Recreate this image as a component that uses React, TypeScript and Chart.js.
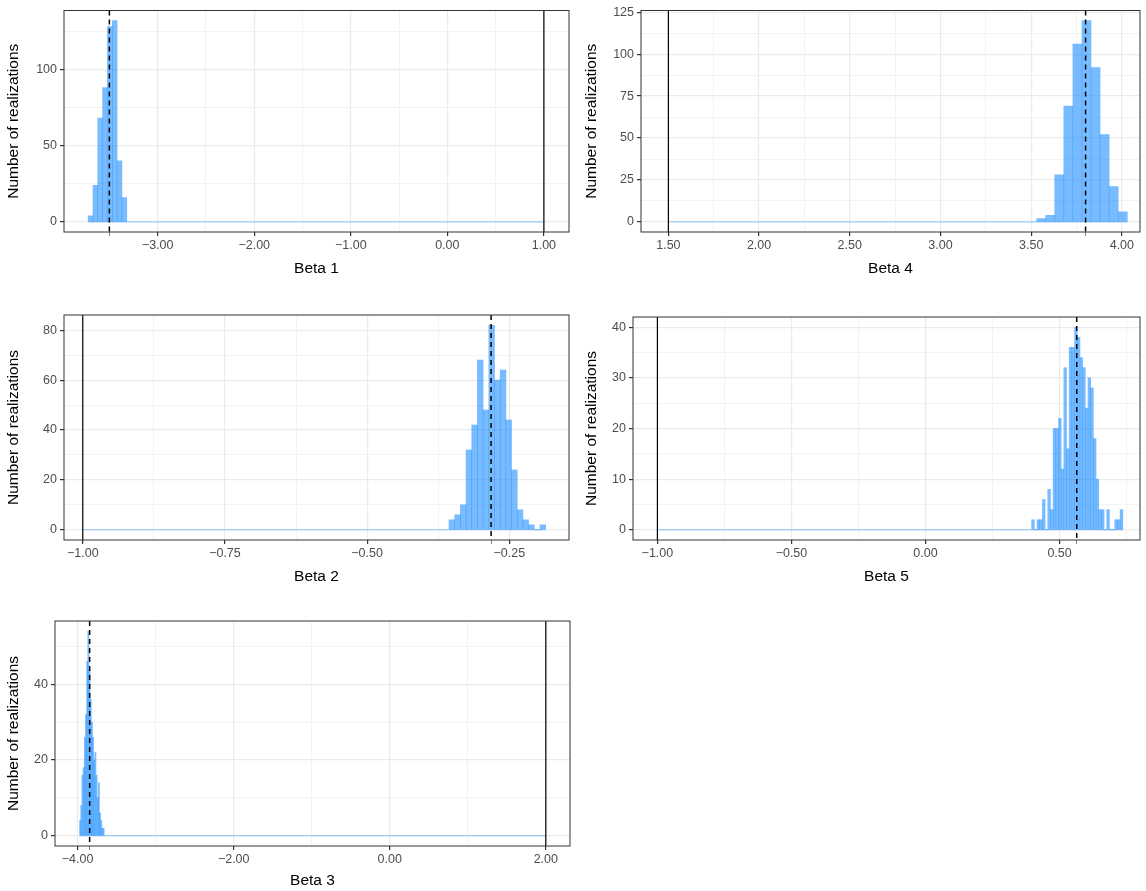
import React, { useEffect, useRef } from 'react';
import { Chart, registerables } from 'chart.js';

Chart.register(...registerables);

// histogram counts per coefficient (bin start = left edge of first bin)
const beta1Counts = [4, 24, 68, 88, 128, 132, 40, 16];
const beta4Counts = [2, 4, 28, 69, 106, 120, 92, 52, 21, 6];
const beta2Counts = [4, 6, 10, 32, 42, 68, 48, 82, 60, 64, 44, 24, 8, 4, 2, 0, 2];
const beta5Counts = [2, 0, 2, 2, 6, 0, 8, 4, 20, 20, 22, 12, 32, 16, 36, 36, 40, 38, 34, 32, 24, 30, 28, 18, 10, 4, 4, 0, 4, 0, 0, 2, 2, 4];
const beta3Counts = [4, 8, 16, 18, 26, 32, 46, 54, 44, 36, 30, 26, 20, 22, 16, 10, 14, 6, 4, 2, 2];

const binStarts = [-3.72, 3.53, -0.356, 0.396, -3.975];
const binWidths = [0.05, 0.05, 0.01, 0.01, 0.015];
const means = [-3.5, 3.8, -0.282, 0.564, -3.846];
const trueValues = [1.0, 1.5, -1.0, -1.0, 2.0];
const titles = ['Beta 1', 'Beta 4', 'Beta 2', 'Beta 5', 'Beta 3'];

const xMajors = [
  [-3, -2, -1, 0, 1],
  [1.5, 2, 2.5, 3, 3.5, 4],
  [-1, -0.75, -0.5, -0.25],
  [-1, -0.5, 0, 0.5],
  [-4, -2, 0, 2],
];
const yMajors = [
  [0, 50, 100],
  [0, 25, 50, 75, 100, 125],
  [0, 20, 40, 60, 80],
  [0, 10, 20, 30, 40],
  [0, 20, 40],
];

// layout: container box and plot area, page pixels
const panels = [
  { box: [0, 0, 578, 278], plot: [64, 5, 569, 232], x: [-3.97, 1.26], y: [-6.6, 138.6] },
  { box: [578, 0, 568, 278], plot: [641, 7, 1140, 232], x: [1.349, 4.1], y: [-6, 126] },
  { box: [0, 300, 578, 286], plot: [64, 315, 569, 540], x: [-1.033, -0.145], y: [-4.1, 86.1] },
  { box: [578, 300, 568, 286], plot: [633, 317, 1140, 540], x: [-1.091, 0.8], y: [-2, 42] },
  { box: [0, 605, 578, 285], plot: [55, 621, 570, 846], x: [-4.29, 2.31], y: [-2.7, 56.7] },
];
const allCounts = [beta1Counts, beta4Counts, beta2Counts, beta5Counts, beta3Counts];

const FONT = '"Liberation Sans", Arial, sans-serif';
const fmt = (v: number) => (v < 0 ? '\u2212' : '') + Math.abs(v).toFixed(2);

function buildTicks(majors: number[], min: number, max: number, extra?: number) {
  const step = majors[1] - majors[0];
  const out: any[] = [];
  for (let v = majors[0] - step / 2; v <= max; v += step / 2) {
    if (v < min) continue;
    const isMajor = majors.some((m) => Math.abs(m - v) < 1e-9);
    out.push({ value: v, kind: isMajor ? 'major' : 'minor' });
  }
  if (extra !== undefined) out.push({ value: extra, kind: 'mean' });
  return out;
}

const Panel: React.FC<{ i: number }> = ({ i }) => {
  const ref = useRef<HTMLCanvasElement>(null);
  useEffect(() => {
    if (!ref.current) return;
    const p = panels[i];
    const [bx, by, bw, bh] = p.box;
    const [pl, pt, pr, pb] = p.plot;
    const counts = allCounts[i];
    const data = counts.map((c, k) => ({ x: binStarts[i] + binWidths[i] * (k + 0.5), y: c }));
    const zeroStart = Math.min(binStarts[i], trueValues[i]);
    const zeroEnd = Math.max(binStarts[i] + binWidths[i] * counts.length, trueValues[i]);

    const gridColor = (ctx: any) =>
      ctx.tick?.kind === 'mean' ? 'rgba(0,0,0,0)' : '#EBEBEB';
    const gridWidth = (ctx: any) => (ctx.tick?.kind === 'major' ? 1.2 : 0.6);
    const tickColor = (ctx: any) =>
      ctx.tick?.kind === 'minor' ? 'rgba(0,0,0,0)' : '#333333';

    const overlay = {
      id: 'overlay',
      afterDatasetsDraw(chart: any) {
        const c = chart.ctx;
        const xs = chart.scales.x;
        const ys = chart.scales.y;
        const a = chart.chartArea;
        c.save();
        c.strokeStyle = 'rgba(30,144,255,0.6)';
        c.lineWidth = 0.8;
        c.beginPath();
        c.moveTo(xs.getPixelForValue(zeroStart), ys.getPixelForValue(0));
        c.lineTo(xs.getPixelForValue(zeroEnd), ys.getPixelForValue(0));
        c.stroke();
        c.strokeStyle = '#000';
        c.lineWidth = 1.2;
        const tx = xs.getPixelForValue(trueValues[i]);
        c.beginPath();
        c.moveTo(tx, a.top);
        c.lineTo(tx, a.bottom);
        c.stroke();
        c.setLineDash([5, 4]);
        c.lineWidth = 1.5;
        const mx = xs.getPixelForValue(means[i]);
        c.beginPath();
        c.moveTo(mx, a.top);
        c.lineTo(mx, a.bottom);
        c.stroke();
        c.setLineDash([]);
        c.strokeStyle = '#333333';
        c.lineWidth = 1;
        c.strokeRect(a.left, a.top, a.right - a.left, a.bottom - a.top);
        c.restore();
      },
    };

    const chart = new Chart(ref.current, {
      type: 'bar',
      data: {
        datasets: [
          {
            data,
            backgroundColor: 'rgba(30,144,255,0.6)',
            borderWidth: 0,
            barPercentage: 1,
            categoryPercentage: 1,
          },
        ],
      },
      options: {
        animation: false,
        responsive: false,
        maintainAspectRatio: false,
        layout: { padding: { top: pt - by, right: bx + bw - pr, left: 0, bottom: 0 } },
        plugins: { legend: { display: false }, tooltip: { enabled: false } },
        scales: {
          x: {
            type: 'linear',
            min: p.x[0],
            max: p.x[1],
            offset: false,
            afterBuildTicks: (s: any) => {
              s.ticks = buildTicks(xMajors[i], p.x[0], p.x[1], means[i]);
            },
            afterFit: (s: any) => {
              s.height = by + bh - pb;
            },
            grid: { offset: false, color: gridColor, lineWidth: gridWidth, tickColor, tickLength: 4 },
            border: { display: false },
            ticks: {
              autoSkip: false,
              maxRotation: 0,
              padding: 2,
              color: '#4D4D4D',
              font: { family: FONT, size: 12.5 },
              callback: function (this: any, v: any, idx: number) {
                const t = this.ticks[idx];
                return t && t.kind === 'major' ? fmt(Number(v)) : '';
              },
            },
            title: { display: true, text: titles[i], color: '#000', font: { family: FONT, size: 15.5 }, padding: { top: 2, bottom: 0 } },
          },
          y: {
            min: p.y[0],
            max: p.y[1],
            afterBuildTicks: (s: any) => {
              s.ticks = buildTicks(yMajors[i], p.y[0], p.y[1]);
            },
            afterFit: (s: any) => {
              s.width = pl - bx;
            },
            grid: { color: gridColor, lineWidth: gridWidth, tickColor, tickLength: 4 },
            border: { display: false },
            ticks: {
              autoSkip: false,
              padding: 3,
              color: '#4D4D4D',
              font: { family: FONT, size: 12.5 },
              callback: function (this: any, v: any, idx: number) {
                const t = this.ticks[idx];
                return t && t.kind === 'major' ? String(v) : '';
              },
            },
            title: { display: true, text: 'Number of realizations', color: '#000', font: { family: FONT, size: 15.5 }, padding: { bottom: 2 } },
          },
        },
      },
      plugins: [overlay],
    } as any);
    return () => chart.destroy();
  }, [i]);

  const [bx, by, bw, bh] = panels[i].box;
  return (
    <div style={{ position: 'absolute', left: bx, top: by, width: bw, height: bh }}>
      <canvas ref={ref} width={bw} height={bh} style={{ width: bw, height: bh }} />
    </div>
  );
};

export default function App() {
  return (
    <div style={{ position: 'fixed', left: 0, top: 0, width: 1146, height: 891, background: '#fff' }}>
      {panels.map((_, i) => (
        <Panel key={i} i={i} />
      ))}
    </div>
  );
}
